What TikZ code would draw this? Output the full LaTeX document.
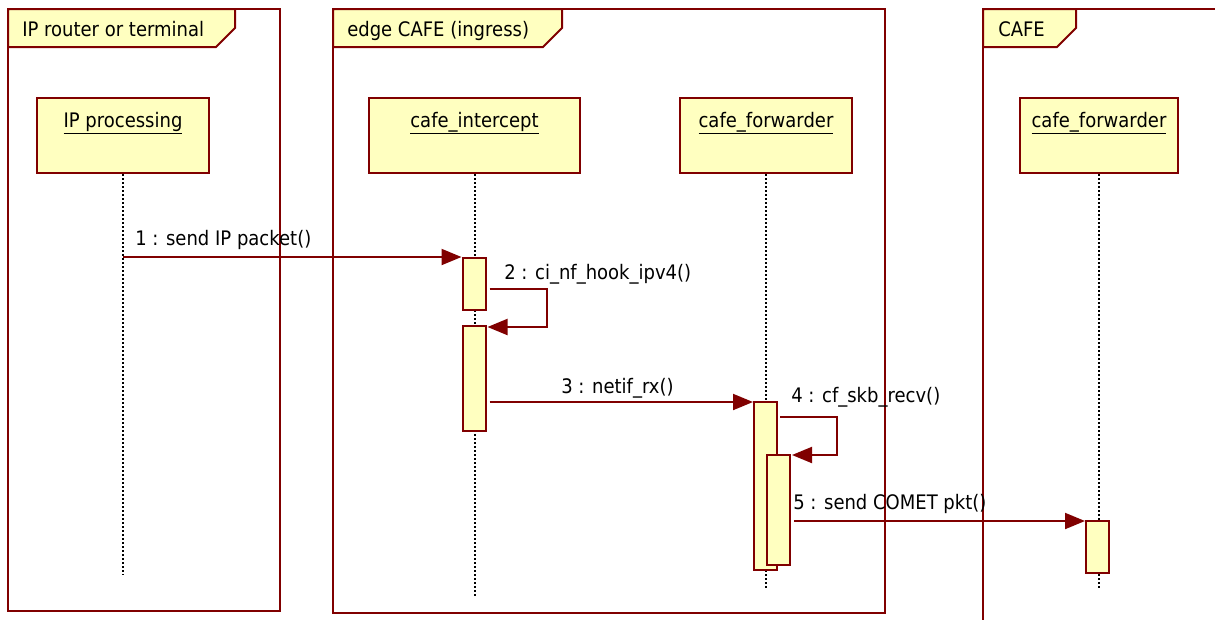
\documentclass[tikz,border=0pt]{standalone}
\usepackage{fontspec}
\setmainfont{DejaVu Sans}[FakeStretch=0.9]
\usepackage{tikz}
\usetikzlibrary{calc}
\usetikzlibrary{arrows.meta}
\definecolor{umlred}{HTML}{800000}
\definecolor{umlfill}{HTML}{FFFFC0}
\tikzset{
  umlframe/.style={draw=umlred, line width=1.5pt},
  tab/.style={draw=umlred, fill=umlfill, line width=1.5pt},
  head/.style={draw=umlred, fill=umlfill, line width=1.5pt, inner sep=0pt, text height=21.75pt, text depth=34.5pt},
  act/.style={draw=umlred, fill=umlfill, line width=1.5pt, inner sep=0pt, minimum width=17.25pt, anchor=north},
  life/.style={black, line width=1.5pt, dash pattern=on 1.5pt off 1.5pt},
  msg/.style={draw=umlred, line width=1.5pt, -{Triangle[length=15pt, width=12pt]}},
  lbl/.style={anchor=base west, inner sep=0pt}
}

\begin{document}
\begin{tikzpicture}[x=0.75pt, y=-0.75pt, font=\fontsize{15}{18}\selectfont]
    \path[use as bounding box, fill=white] (0,0) rectangle (1215,619);
    \clip (0,0) rectangle (1215,619);
    \draw[umlframe] (8,9) rectangle (280,611);
    \draw[tab] (8,9) -- (235,9) -- (235,28) -- (216,47) -- (8,47) -- cycle;
    \node[lbl] (f1) at (22,36) {IP router or terminal};
    \draw[umlframe] (333,9) rectangle (885,613);
    \draw[tab] (333,9) -- (562,9) -- (562,28) -- (543,47) -- (333,47) -- cycle;
    \node[lbl] (f2) at (347,36) {edge CAFE (ingress)};
    \draw[umlframe] (1230,9) -- (983,9) -- (983,630);
    \draw[tab] (983,9) -- (1076,9) -- (1076,28) -- (1057,47) -- (983,47) -- cycle;
    \node[lbl] (f3) at (998,36) {CAFE};
    \node[head, minimum width=129pt] (ip) at (123,135.5) {\underline{IP processing}};
    \node[head, minimum width=158.25pt] (icpt) at (474.5,135.5) {\underline{cafe\_intercept}};
    \node[head, minimum width=129pt] (fwd) at (766,135.5) {\underline{cafe\_forwarder}};
    \node[head, minimum width=118.5pt] (rfwd) at (1099,135.5) {\underline{cafe\_forwarder}};
    \foreach \a/\y in {ip/575, icpt/597, fwd/590, rfwd/590} {
      \coordinate (\a-end) at (\a |- 0,\y);
      \draw[life] (\a.south) -- (\a-end);
    }
    \node[act, minimum height=39pt] (act1) at (474,257) {};
    \node[act, minimum height=78.75pt] (act2) at (474,325) {};
    \node[act, minimum height=126pt] (act3) at (765.5,401) {};
    \node[act, minimum height=82.5pt] (act4) at (778.5,454) {};
    \node[act, minimum height=39pt] (act5) at (1097.5,520) {};
    \draw[msg] (ip |- act1.north) -- (act1.north west);
    \draw[msg] ($(act1.north east)+(3,32)$) -- ++(57,0) |- ($(act2.north east)+(1,2)$);
    \draw[msg] ($(act2.east |- act3.north)+(3,1)$) -- ($(act3.north west)+(0,1)$);
    \draw[msg] ($(act3.north east)+(2,16)$) -- ++(57,0) |- ($(act4.north east)+(1,1)$);
    \draw[msg] ($(act4.east |- act5.north)+(3,1)$) -- ($(act5.north west)+(0,1)$);
    \node[lbl] (m1) at (135,245) {1 : send IP packet()};
    \node[lbl] (m2) at (504,279) {2 : ci\_nf\_hook\_ipv4()};
    \node[lbl] (m3) at (561,393) {3 : netif\_rx()};
    \node[lbl] (m4) at (791,402) {4 : cf\_skb\_recv()};
    \node[lbl] (m5) at (793,509) {5 : send COMET pkt()};
  \end{tikzpicture}
\end{document}
